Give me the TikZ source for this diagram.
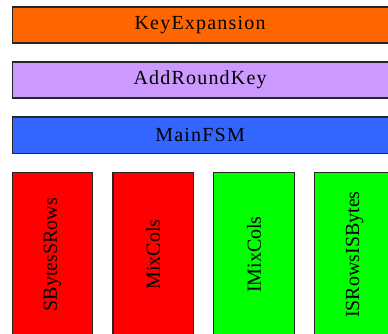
\documentclass[tikz,border=0pt]{standalone}
\usepackage{fontspec}
\setmainfont{Liberation Serif}
\newfontfamily\spacedfont{Liberation Serif}[LetterSpace=6]
\usepackage{xcolor}
\usetikzlibrary{positioning}
\definecolor{keyorange}{HTML}{FF6600}
\definecolor{roundlilac}{HTML}{CC99FF}
\definecolor{fsmblue}{HTML}{3366FF}
\definecolor{opred}{HTML}{FF0000}
\definecolor{opgreen}{HTML}{00FF00}
\tikzset{
  bar/.style={draw=black!85, line width=1.2pt, minimum width=376pt, minimum height=36pt, inner sep=0pt, font=\spacedfont\fontsize{20}{24}\selectfont},
  col/.style={draw=black!85, line width=1.2pt, minimum width=80.3pt, minimum height=165pt, inner sep=0pt},
  collabel/.style={rotate=90, inner sep=0pt, font=\fontsize{20}{24}\selectfont}
}
\begin{document}
\begin{tikzpicture}[x=1pt, y=-1pt, node distance=17.8pt]
    \useasboundingbox (0,0) rectangle (388,334);
    \node (keyexp) [bar, fill=keyorange, anchor=north west] at (11.5,6.5) {KeyExpansion};
    \node (addkey) [bar, fill=roundlilac, below=of keyexp] {AddRoundKey};
    \node (mainfsm) [bar, fill=fsmblue, below=of addkey] {MainFSM};
    \node (sbytes) [col, fill=opred, anchor=north west] at (11.6,171.5) {};
    \node (mixcols) [col, fill=opred, right=19.3pt of sbytes] {};
    \node (imixcols) [col, fill=opgreen, right=19.3pt of mixcols] {};
    \node (isrows) [col, fill=opgreen, right=19.3pt of imixcols] {};
    \node [collabel] at (sbytes.center) {SBytesSRows};
    \node [collabel] at (mixcols.center) {MixCols};
    \node [collabel] at (imixcols.center) {IMixCols};
    \node [collabel] at (isrows.center) {ISRowsISBytes};
  \end{tikzpicture}
\end{document}
